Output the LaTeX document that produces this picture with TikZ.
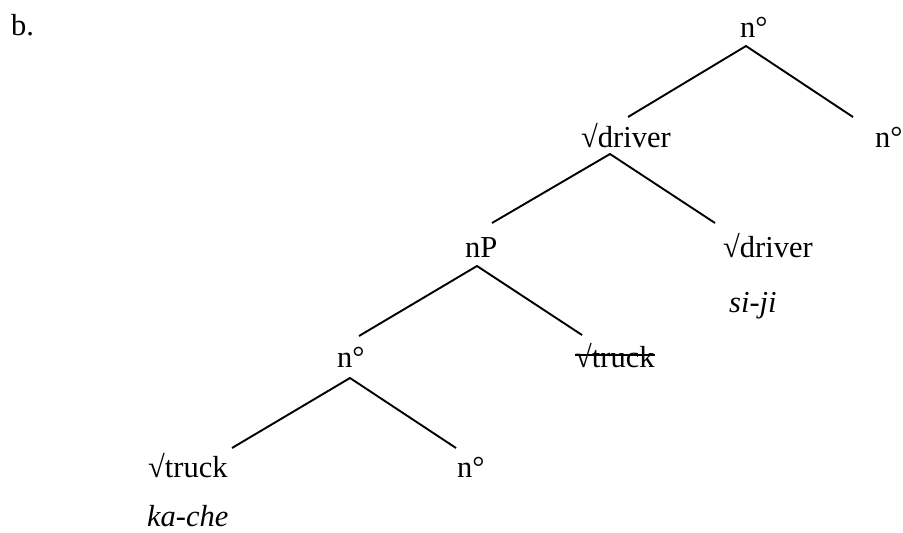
\documentclass[tikz,border=0pt]{standalone}
\usepackage{fontspec}
\setmainfont{Liberation Serif}
\usetikzlibrary{calc}
\begin{document}
\begin{tikzpicture}[x=1pt,y=-1pt,
  lab/.style={anchor=base west,inner sep=0pt,font=\fontsize{30.5}{36}\selectfont},
  gl/.style={anchor=base west,inner sep=0pt,font=\fontsize{30.5}{36}\selectfont\itshape},
  branch/.style={line width=1.9pt,line cap=butt}]
\useasboundingbox (0,0) rectangle (903,533);
\node[lab] (b) at (11,35) {b.};
\node[lab] (n1) at (740,37) {n°};
\node[lab] (d2) at (581,147) {√driver};
\node[lab] (n2) at (875,147) {n°};
\node[lab] (nP) at (465,257) {nP};
\node[lab] (d3) at (723,257) {√driver};
\node[gl] (siji) at (729,312) {si-ji};
\node[lab] (n4) at (337,367) {n°};
\node[lab] (t4) at (575,367) {√truck};
\node[lab] (t5) at (148,477) {√truck};
\node[lab] (n5) at (457,477) {n°};
\node[gl] (kache) at (147,526) {ka-che};
% strike-through
\draw[line width=1.5pt] ($(t4.base west)+(0,-12)$) -- ($(t4.base east)+(0,-12)$);
% branches
\draw[branch] ($(d2.base west)+(47,-30)$) -- ($(n1.base west)+(6,9)$) -- ($(n2.base west)+(-22,-30)$);
\draw[branch] ($(nP.base west)+(27,-34)$) -- ($(d2.base west)+(29,7)$) -- ($(d3.base west)+(-8,-34)$);
\draw[branch] ($(n4.base west)+(22,-31)$) -- ($(nP.base west)+(12,9)$) -- ($(t4.base west)+(7,-32)$);
\draw[branch] ($(t5.base west)+(84,-29)$) -- ($(n4.base west)+(13,11)$) -- ($(n5.base west)+(-1,-29)$);
\end{tikzpicture}
\end{document}
